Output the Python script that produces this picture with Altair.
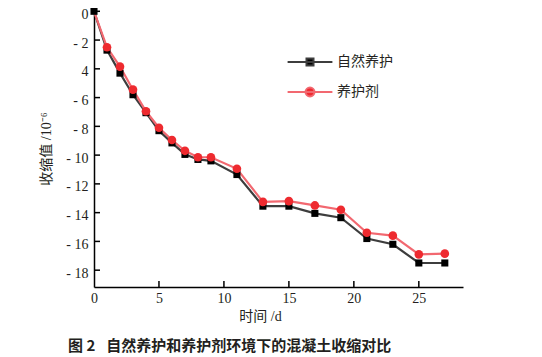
import altair as alt
import pandas as pd

days = [0, 1, 2, 3, 4, 5, 6, 7, 8, 9, 11, 13, 15, 17, 19, 21, 23, 25, 27]
natural = [0, -2.7, -4.3, -5.8, -7.05, -8.3, -9.15, -9.95, -10.3, -10.4, -11.35,
           -13.55, -13.55, -14.05, -14.35, -15.8, -16.2, -17.5, -17.5]
agent = [0, -2.5, -3.85, -5.45, -6.95, -8.1, -8.95, -9.7, -10.15, -10.15, -10.95,
         -13.25, -13.2, -13.5, -13.8, -15.4, -15.6, -16.9, -16.85]
series_names = ["自然养护", "养护剂"]
y_ticks = [0, -2, -4, -6, -8, -10, -12, -14, -16, -18]
x_ticks = [0, 5, 10, 15, 20, 25]
x_inner_ticks = [5, 10, 15, 20, 25]

rows = []
for d, a, b in zip(days, natural, agent):
    rows.append({"day": d, "value": a, "series": series_names[0]})
    rows.append({"day": d, "value": b, "series": series_names[1]})
df = pd.DataFrame(rows)

W, H = 369, 277
numfont = "Liberation Serif, Times New Roman, serif"
serif = "Liberation Serif, Times New Roman, Noto Sans CJK SC"
cjk = "Noto Sans CJK SC"
txt = "#231f20"

xs = alt.Scale(domain=[0, 28.4], nice=False, zero=False)
ys = alt.Scale(domain=[-19.17, 0.09], nice=False, zero=False)

xaxis = alt.Axis(values=x_ticks, ticks=False, grid=False, domainColor="#000",
                 domainWidth=1.5, labelFont=numfont, labelFontSize=14,
                 labelColor=txt, labelPadding=4, title="时间 /d", titleFont=serif,
                 titleFontSize=14, titleFontWeight="normal", titleColor=txt,
                 titleX=166, titleY=29, titleAlign="center", titleBaseline="middle",
                 labelFlush=False)
yaxis = alt.Axis(values=y_ticks, ticks=False, grid=False, domainColor="#000",
                 domainWidth=1.5, labelFont=numfont, labelFontSize=14,
                 labelColor=txt, labelPadding=6, labelOffset=3,
                 labelExpr="datum.value == 0 ? '0' : (datum.value == -4 ? '4' : '- ' + abs(datum.value))",
                 title="收缩值 /10⁻⁶", titleFont=serif, titleFontSize=14,
                 titleFontWeight="normal", titleColor=txt, titlePadding=12)

base = alt.Chart(df)
X = alt.X("day:Q", scale=xs, axis=xaxis)
Y = alt.Y("value:Q", scale=ys, axis=yaxis)

line_nat = base.transform_filter(alt.datum.series == series_names[0]).mark_line(
    color="#3d3d3d", strokeWidth=2.2).encode(x=X, y=Y)
pts_nat = base.transform_filter(alt.datum.series == series_names[0]).mark_square(
    color="#000", size=50, opacity=1).encode(x=X, y=Y)
line_ag = base.transform_filter(alt.datum.series == series_names[1]).mark_line(
    color="#f26870", strokeWidth=2.2).encode(x=X, y=Y)
pts_ag = base.transform_filter(
    (alt.datum.series == series_names[1]) & (alt.datum.day > 0)).mark_circle(
    color="#ee2a2f", size=75, opacity=1).encode(x=X, y=Y)

# ticks pointing inward, drawn through the scales
ytick_df = pd.DataFrame({"t": y_ticks})
xtick_df = pd.DataFrame({"t": x_inner_ticks})
yticks = alt.Chart(ytick_df).mark_rule(color="#000", strokeWidth=1.5).encode(
    y=alt.Y("t:Q", scale=ys, axis=yaxis), x=alt.value(0), x2=alt.value(6))
xticks = alt.Chart(xtick_df).mark_rule(color="#000", strokeWidth=1.5).encode(
    x=alt.X("t:Q", scale=xs, axis=xaxis), y=alt.value(H), y2=alt.value(H - 6))

sq_path = "M-3.2,0H3.2M-0.5,-0.5H0.5V0.5H-0.5Z"
ci_path = "M-3.2,0H3.2M-0.64,0A0.64,0.64,0,1,1,0.64,0A0.64,0.64,0,1,1,-0.64,0Z"

legend = alt.Legend(title=None, orient="none", legendX=208, legendY=44,
                    symbolSize=196, symbolStrokeWidth=2, symbolOpacity=1,
                    labelFont=cjk, labelFontSize=14, labelColor=txt, labelOffset=19,
                    rowPadding=13, padding=0)
leg_layer = base.mark_point(filled=True, clip=True, opacity=1).encode(
    x=X, y=alt.value(-2000),
    fill=alt.Fill("series:N", scale=alt.Scale(domain=series_names, range=["#000", "#ee2a2f"]), legend=legend),
    stroke=alt.Stroke("series:N", scale=alt.Scale(domain=series_names, range=["#3d3d3d", "#f26870"]), legend=legend),
    shape=alt.Shape("series:N", scale=alt.Scale(domain=series_names, range=[sq_path, ci_path]), legend=legend),
)

chart = alt.layer(line_nat, line_ag, pts_nat, pts_ag, yticks, xticks, leg_layer).properties(
    width=W, height=H,
    autosize=alt.AutoSizeParams(type="none"),
    padding={"left": 86, "top": 2, "right": 71, "bottom": 70},
    title=alt.TitleParams(text="图 2\u2002 自然养护和养护剂环境下的混凝土收缩对比", orient="bottom",
                          anchor="start", frame="group", dx=-26, offset=16, fontSize=15,
                          fontWeight="bold", font=cjk, color=txt),
).configure_view(stroke=None)

chart.save("out.html", embed_options={"renderer": "svg", "actions": False})
